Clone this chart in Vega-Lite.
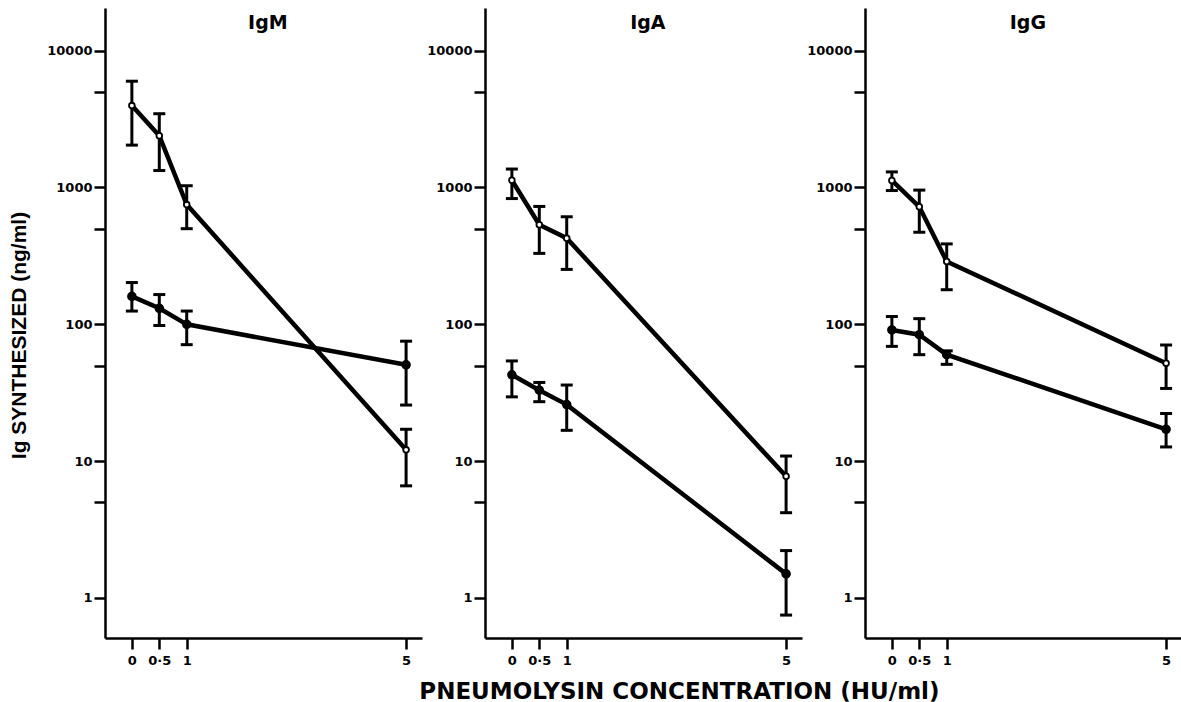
{
  "$schema": "https://vega.github.io/schema/vega-lite/v6.json",
  "padding": {"left": 8, "right": 0, "top": 8, "bottom": 0},
  "background": "white",
  "config": {
    "view": {"stroke": null},
    "axis": {
      "grid": false,
      "domainColor": "black",
      "domainWidth": 2.5,
      "tickColor": "black",
      "tickWidth": 2.5,
      "tickSize": 11,
      "labelColor": "black",
      "labelFont": "DejaVu Sans",
      "labelFontWeight": "bold",
      "labelFontSize": 13,
      "titleColor": "black"
    }
  },
  "title": {
    "text": "PNEUMOLYSIN CONCENTRATION (HU/ml)",
    "orient": "bottom",
    "anchor": "middle",
    "font": "DejaVu Sans",
    "fontSize": 23,
    "fontWeight": "bold",
    "color": "black",
    "offset": 14,
    "dx": 84
  },
  "data": {
    "values": [
      {"panel": "IgM", "group": "open", "x": 0, "y": 3970, "lo": 2040, "hi": 5980},
      {"panel": "IgM", "group": "open", "x": 0.5, "y": 2390, "lo": 1330, "hi": 3460},
      {"panel": "IgM", "group": "open", "x": 1, "y": 750, "lo": 500, "hi": 1030},
      {"panel": "IgM", "group": "open", "x": 5, "y": 12.1, "lo": 6.6, "hi": 17.1},
      {"panel": "IgM", "group": "closed", "x": 0, "y": 160, "lo": 125, "hi": 202},
      {"panel": "IgM", "group": "closed", "x": 0.5, "y": 131, "lo": 98, "hi": 165},
      {"panel": "IgM", "group": "closed", "x": 1, "y": 100, "lo": 71, "hi": 125},
      {"panel": "IgM", "group": "closed", "x": 5, "y": 50.6, "lo": 25.7, "hi": 75.3},
      {"panel": "IgA", "group": "open", "x": 0, "y": 1130, "lo": 830, "hi": 1364},
      {"panel": "IgA", "group": "open", "x": 0.5, "y": 534, "lo": 330, "hi": 727},
      {"panel": "IgA", "group": "open", "x": 1, "y": 426, "lo": 252, "hi": 611},
      {"panel": "IgA", "group": "open", "x": 5, "y": 7.75, "lo": 4.2, "hi": 10.9},
      {"panel": "IgA", "group": "closed", "x": 0, "y": 42.8, "lo": 29.5, "hi": 54},
      {"panel": "IgA", "group": "closed", "x": 0.5, "y": 33, "lo": 27.2, "hi": 37.6},
      {"panel": "IgA", "group": "closed", "x": 1, "y": 25.9, "lo": 16.8, "hi": 36},
      {"panel": "IgA", "group": "closed", "x": 5, "y": 1.5, "lo": 0.75, "hi": 2.22},
      {"panel": "IgG", "group": "open", "x": 0, "y": 1125, "lo": 950, "hi": 1300},
      {"panel": "IgG", "group": "open", "x": 0.5, "y": 723, "lo": 471, "hi": 957},
      {"panel": "IgG", "group": "open", "x": 1, "y": 288, "lo": 179, "hi": 387},
      {"panel": "IgG", "group": "open", "x": 5, "y": 52, "lo": 34, "hi": 70.6},
      {"panel": "IgG", "group": "closed", "x": 0, "y": 91, "lo": 69, "hi": 114},
      {"panel": "IgG", "group": "closed", "x": 0.5, "y": 84, "lo": 60, "hi": 110},
      {"panel": "IgG", "group": "closed", "x": 1, "y": 60, "lo": 51, "hi": 64},
      {"panel": "IgG", "group": "closed", "x": 5, "y": 17.1, "lo": 12.7, "hi": 22.3}
    ]
  },
  "bounds": "flush",
  "spacing": 63,
  "hconcat": [
    {
      "width": 317,
      "height": 630,
      "transform": [{"filter": "datum.panel == 'IgM'"}],
      "encoding": {
        "x": {"field": "x", "type": "quantitative", "scale": {"domain": [-0.49, 5.29], "nice": false, "zero": false},
          "axis": {"values": [0, 0.5, 1, 5], "title": null, "labelPadding": 5, "labelExpr": "datum.value == 0.5 ? '0·5' : datum.label"}}
      },
      "layer": [
        {"mark": {"type": "line", "color": "black", "strokeWidth": 4.5},
          "encoding": {"y": {"field": "y", "type": "quantitative", "scale": {"type": "log", "domain": [0.51, 20500], "nice": false},
            "axis": {"values": [1, 5, 10, 50, 100, 500, 1000, 5000, 10000], "labelPadding": 2, "labelExpr": "(datum.value == 1 || datum.value == 10 || datum.value == 100 || datum.value == 1000 || datum.value == 10000) ? format(datum.value, 'd') : ''",
              "title": "Ig SYNTHESIZED (ng/ml)", "titleFont": "Liberation Sans", "titleFontSize": 21, "titleFontWeight": "bold", "titlePadding": 17, "titleY": 327}},
            "detail": {"field": "group"}}},
        {"mark": {"type": "rule", "color": "black", "strokeWidth": 3, "opacity": 1},
          "encoding": {"y": {"field": "lo", "type": "quantitative"}, "y2": {"field": "hi"}}},
        {"mark": {"type": "tick", "orient": "horizontal", "color": "black", "thickness": 3, "size": 12, "opacity": 1},
          "encoding": {"y": {"field": "hi", "type": "quantitative"}}},
        {"mark": {"type": "tick", "orient": "horizontal", "color": "black", "thickness": 3, "size": 12, "opacity": 1},
          "encoding": {"y": {"field": "lo", "type": "quantitative"}}},
        {"mark": {"type": "point", "shape": "circle", "filled": true, "stroke": "black", "strokeWidth": 1.8, "opacity": 1},
          "encoding": {"y": {"field": "y", "type": "quantitative"},
            "fill": {"field": "group", "type": "nominal", "scale": {"domain": ["open", "closed"], "range": ["white", "black"]}, "legend": null},
            "size": {"field": "group", "type": "nominal", "scale": {"domain": ["open", "closed"], "range": [32, 60]}, "legend": null}}},
        {"transform": [{"filter": "datum.x == 0 && datum.group == 'open'"}],
          "mark": {"type": "text", "font": "DejaVu Sans", "fontWeight": "bold", "fontSize": 19, "color": "black", "baseline": "middle", "align": "center"},
          "encoding": {"x": {"datum": 2.48, "type": "quantitative"}, "y": {"datum": 16000, "type": "quantitative"}, "text": {"field": "panel"}}}
      ]
    },
    {
      "width": 317,
      "height": 630,
      "transform": [{"filter": "datum.panel == 'IgA'"}],
      "encoding": {
        "x": {"field": "x", "type": "quantitative", "scale": {"domain": [-0.49, 5.29], "nice": false, "zero": false},
          "axis": {"values": [0, 0.5, 1, 5], "title": null, "labelPadding": 5, "labelExpr": "datum.value == 0.5 ? '0·5' : datum.label"}}
      },
      "layer": [
        {"mark": {"type": "line", "color": "black", "strokeWidth": 4.5},
          "encoding": {"y": {"field": "y", "type": "quantitative", "scale": {"type": "log", "domain": [0.51, 20500], "nice": false},
            "axis": {"values": [1, 5, 10, 50, 100, 500, 1000, 5000, 10000], "labelPadding": 2, "labelExpr": "(datum.value == 1 || datum.value == 10 || datum.value == 100 || datum.value == 1000 || datum.value == 10000) ? format(datum.value, 'd') : ''",
              "title": null}},
            "detail": {"field": "group"}}},
        {"mark": {"type": "rule", "color": "black", "strokeWidth": 3, "opacity": 1},
          "encoding": {"y": {"field": "lo", "type": "quantitative"}, "y2": {"field": "hi"}}},
        {"mark": {"type": "tick", "orient": "horizontal", "color": "black", "thickness": 3, "size": 12, "opacity": 1},
          "encoding": {"y": {"field": "hi", "type": "quantitative"}}},
        {"mark": {"type": "tick", "orient": "horizontal", "color": "black", "thickness": 3, "size": 12, "opacity": 1},
          "encoding": {"y": {"field": "lo", "type": "quantitative"}}},
        {"mark": {"type": "point", "shape": "circle", "filled": true, "stroke": "black", "strokeWidth": 1.8, "opacity": 1},
          "encoding": {"y": {"field": "y", "type": "quantitative"},
            "fill": {"field": "group", "type": "nominal", "scale": {"domain": ["open", "closed"], "range": ["white", "black"]}, "legend": null},
            "size": {"field": "group", "type": "nominal", "scale": {"domain": ["open", "closed"], "range": [32, 60]}, "legend": null}}},
        {"transform": [{"filter": "datum.x == 0 && datum.group == 'open'"}],
          "mark": {"type": "text", "font": "DejaVu Sans", "fontWeight": "bold", "fontSize": 19, "color": "black", "baseline": "middle", "align": "center"},
          "encoding": {"x": {"datum": 2.48, "type": "quantitative"}, "y": {"datum": 16000, "type": "quantitative"}, "text": {"field": "panel"}}}
      ]
    },
    {
      "width": 317,
      "height": 630,
      "transform": [{"filter": "datum.panel == 'IgG'"}],
      "encoding": {
        "x": {"field": "x", "type": "quantitative", "scale": {"domain": [-0.49, 5.29], "nice": false, "zero": false},
          "axis": {"values": [0, 0.5, 1, 5], "title": null, "labelPadding": 5, "labelExpr": "datum.value == 0.5 ? '0·5' : datum.label"}}
      },
      "layer": [
        {"mark": {"type": "line", "color": "black", "strokeWidth": 4.5},
          "encoding": {"y": {"field": "y", "type": "quantitative", "scale": {"type": "log", "domain": [0.51, 20500], "nice": false},
            "axis": {"values": [1, 5, 10, 50, 100, 500, 1000, 5000, 10000], "labelPadding": 2, "labelExpr": "(datum.value == 1 || datum.value == 10 || datum.value == 100 || datum.value == 1000 || datum.value == 10000) ? format(datum.value, 'd') : ''",
              "title": null}},
            "detail": {"field": "group"}}},
        {"mark": {"type": "rule", "color": "black", "strokeWidth": 3, "opacity": 1},
          "encoding": {"y": {"field": "lo", "type": "quantitative"}, "y2": {"field": "hi"}}},
        {"mark": {"type": "tick", "orient": "horizontal", "color": "black", "thickness": 3, "size": 12, "opacity": 1},
          "encoding": {"y": {"field": "hi", "type": "quantitative"}}},
        {"mark": {"type": "tick", "orient": "horizontal", "color": "black", "thickness": 3, "size": 12, "opacity": 1},
          "encoding": {"y": {"field": "lo", "type": "quantitative"}}},
        {"mark": {"type": "point", "shape": "circle", "filled": true, "stroke": "black", "strokeWidth": 1.8, "opacity": 1},
          "encoding": {"y": {"field": "y", "type": "quantitative"},
            "fill": {"field": "group", "type": "nominal", "scale": {"domain": ["open", "closed"], "range": ["white", "black"]}, "legend": null},
            "size": {"field": "group", "type": "nominal", "scale": {"domain": ["open", "closed"], "range": [32, 60]}, "legend": null}}},
        {"transform": [{"filter": "datum.x == 0 && datum.group == 'open'"}],
          "mark": {"type": "text", "font": "DejaVu Sans", "fontWeight": "bold", "fontSize": 19, "color": "black", "baseline": "middle", "align": "center"},
          "encoding": {"x": {"datum": 2.48, "type": "quantitative"}, "y": {"datum": 16000, "type": "quantitative"}, "text": {"field": "panel"}}}
      ]
    }
  ]
}
